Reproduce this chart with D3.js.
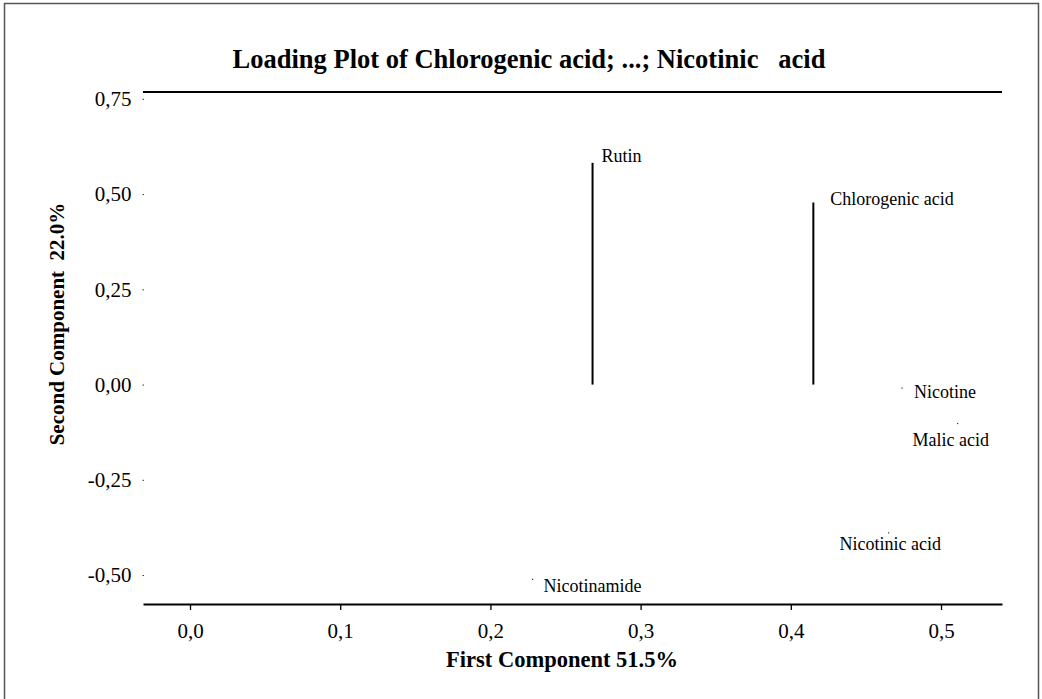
<!DOCTYPE html>
<html>
<head>
<meta charset="utf-8">
<script src="https://cdn.jsdelivr.net/npm/d3@7"></script>
<style>
    body { margin: 0; background: #fff; }
    text { font-family: "Liberation Serif", "Times New Roman", serif; fill: #000; }
</style>
</head>
<body>
<div id="chart"></div>
<script>

// loadings
const variables = ["Rutin", "Chlorogenic acid", "Nicotine", "Malic acid", "Nicotinic acid", "Nicotinamide"];
const firstComp = [0.268, 0.415, 0.474, 0.511, 0.465, 0.228];
const secondComp = [0.582, 0.478, -0.009, -0.102, -0.389, -0.511];
const stemmed = ["Rutin", "Chlorogenic acid"];

const xTicks = [0.0, 0.1, 0.2, 0.3, 0.4, 0.5];
const yTicks = [-0.50, -0.25, 0.00, 0.25, 0.50, 0.75];

// label offsets in px (placement of each name next to its point)
const labelOffset = {
    "Rutin": [9, -1],
    "Chlorogenic acid": [17, 3],
    "Nicotine": [12, 10],
    "Malic acid": [-45, 23],
    "Nicotinic acid": [-49, 17],
    "Nicotinamide": [11, 13]
};

const width = 1042, height = 699;
const margin = {top: 92, right: 40, bottom: 95, left: 143};

const svg = d3.select("#chart").append("svg")
    .attr("width", width)
    .attr("height", height);

// frame
svg.append("rect")
    .attr("x", 4.5).attr("y", 3.5)
    .attr("width", 1034).attr("height", 720)
    .attr("fill", "none")
    .attr("stroke", "#555")
    .attr("stroke-width", 1.5);

const x = d3.scaleLinear()
    .domain([-0.0313, 0.5406])
    .range([margin.left, width - margin.right]);
const y = d3.scaleLinear()
    .domain([-0.576, 0.768])
    .range([height - margin.bottom, margin.top]);

// decimal comma, plain hyphen for minus
const fmt = p => v => d3.format("." + p + "f")(v).replace(".", ",").replace("\u2212", "-");

// x axis
const xAxis = d3.axisBottom(x)
    .tickValues(xTicks)
    .tickFormat(fmt(1))
    .tickSizeInner(6)
    .tickSizeOuter(0)
    .tickPadding(13);

const gx = svg.append("g")
    .attr("transform", "translate(0," + y.range()[0] + ")")
    .call(xAxis);
gx.attr("font-family", null).attr("font-size", null);
gx.select(".domain").attr("stroke-width", 2.2);
gx.selectAll(".tick line").attr("stroke-width", 1.3);
gx.selectAll(".tick text").style("font-size", "21px");

// top border line
svg.append("line")
    .attr("x1", x.range()[0]).attr("x2", x.range()[1])
    .attr("y1", y.range()[1]).attr("y2", y.range()[1])
    .attr("stroke", "#000")
    .attr("stroke-width", 2.2);

// y axis: no line, tiny tick dots
const yAxis = d3.axisLeft(y)
    .tickValues(yTicks)
    .tickFormat(fmt(2))
    .tickSizeInner(1.5)
    .tickSizeOuter(0)
    .tickPadding(11);

const gy = svg.append("g")
    .attr("transform", "translate(" + (x.range()[0] + 1) + ",0)")
    .call(yAxis);
gy.attr("font-family", null).attr("font-size", null);
gy.select(".domain").remove();
gy.selectAll(".tick line").attr("stroke", "#333").attr("stroke-width", 1);
gy.selectAll(".tick text").style("font-size", "21px");

// points
const points = variables.map((name, i) => ({name: name, x: firstComp[i], y: secondComp[i]}));

svg.selectAll(".stem")
    .data(points.filter(d => stemmed.includes(d.name)))
    .enter().append("line")
    .attr("class", "stem")
    .attr("x1", d => x(d.x)).attr("x2", d => x(d.x))
    .attr("y1", y(0)).attr("y2", d => y(d.y))
    .attr("stroke", "#000")
    .attr("stroke-width", 2);

svg.selectAll(".dot")
    .data(points.filter(d => !stemmed.includes(d.name)))
    .enter().append("rect")
    .attr("class", "dot")
    .attr("x", d => x(d.x) - 0.5)
    .attr("y", d => y(d.y) - 0.5)
    .attr("width", 1.2).attr("height", 1.2)
    .attr("fill", "#333");

svg.selectAll(".label")
    .data(points)
    .enter().append("text")
    .attr("class", "label")
    .attr("x", d => x(d.x) + labelOffset[d.name][0])
    .attr("y", d => y(d.y) + labelOffset[d.name][1])
    .style("font-size", "18px")
    .text(d => d.name);

// titles
svg.append("text")
    .attr("x", 529).attr("y", 68)
    .attr("text-anchor", "middle")
    .style("font-size", "26.5px")
    .style("font-weight", "bold")
    .style("white-space", "pre")
    .text("Loading Plot of Chlorogenic acid; ...; Nicotinic   acid");

svg.append("text")
    .attr("x", 562).attr("y", 667)
    .attr("text-anchor", "middle")
    .style("font-size", "22.5px")
    .style("font-weight", "bold")
    .text("First Component 51.5%");

svg.append("text")
    .attr("transform", "translate(64,324) rotate(-90)")
    .attr("text-anchor", "middle")
    .style("font-size", "21px")
    .style("font-weight", "bold")
    .style("white-space", "pre")
    .text("Second Component  22.0%");

</script>
</body>
</html>
